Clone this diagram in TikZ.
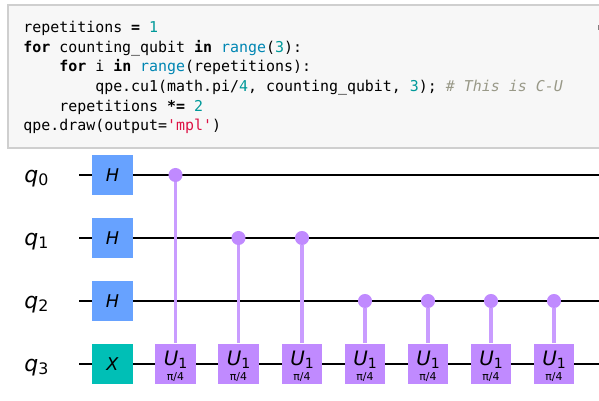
\documentclass[tikz,border=0pt]{standalone}
\usepackage{fontspec}
\usepackage{xcolor}
\setmonofont{DejaVu Sans Mono}
\newfontfamily\labelfont{DejaVu Sans}
\definecolor{hblue}{HTML}{67A2FF}
\definecolor{xteal}{HTML}{00BFB6}
\definecolor{upurple}{HTML}{C08AFF}
\definecolor{cellgray}{HTML}{F7F7F7}
\definecolor{cellline}{HTML}{CFCFCF}
\definecolor{kwnum}{HTML}{009999}
\definecolor{kwfun}{HTML}{0086B3}
\definecolor{kwstr}{HTML}{DD1144}
\definecolor{kwcom}{HTML}{999988}
\newcommand{\kw}[1]{\textbf{#1}}
\newcommand{\nm}[1]{\textcolor{kwnum}{#1}}
\newcommand{\fn}[1]{\textcolor{kwfun}{#1}}
\newcommand{\qlabel}[1]{\fontsize{12.5}{15}\labelfont\textit{q}\raisebox{-2.2pt}{\fontsize{9}{11}\selectfont #1}}
\tikzset{
  codeline/.style={anchor=base west,inner sep=0pt,font=\ttfamily\fontsize{8.5}{10}\selectfont},
  gatebox/.style={minimum size=23.2pt,inner sep=0pt,font=\labelfont\itshape\fontsize{10}{12}\selectfont},
  ctrl/.style={circle,fill=upurple,minimum size=8pt,inner sep=0pt},
  ctrlline/.style={draw=upurple!85!white,line width=1.8pt},
  wire/.style={line width=1.5pt},
}
\begin{document}
\begin{tikzpicture}[x=0.02cm,y=-0.02cm]
\useasboundingbox (0,0) rectangle (599,400);
% code cell
\draw[cellline,fill=cellgray,line width=0.6pt] (8,5)--(600,5)--(600,148)--(8,148)--cycle;
\fill[gray] (597.5,25) rectangle (599,30);
\node[codeline] (line0) at (23,32) {repetitions \kw{=} \nm{1}};
\node[codeline] (line1) at (23,52) {\kw{for} counting\_qubit \kw{in} \fn{range}(\nm{3}):};
\node[codeline] (line2) at (23,71.5) {\ \ \ \ \kw{for} i \kw{in} \fn{range}(repetitions):};
\node[codeline] (line3) at (23,91) {\ \ \ \ \ \ \ \ qpe.cu1(math.pi/\nm{4}, counting\_qubit, \nm{3}); \textcolor{kwcom}{\textit{\# This is C-U}}};
\node[codeline] (line4) at (23,111) {\ \ \ \ repetitions \kw{*=} \nm{2}};
\node[codeline] (line5) at (23,130.5) {qpe.draw(output=\textcolor{kwstr}{'mpl'})};
% wires
\foreach \n/\y in {0/175,1/238,2/301,3/364} {
  \coordinate (in\n) at (79,\y);
  \coordinate (out\n) at (599,\y);
  \draw[wire] (in\n)--(out\n);
  \node[inner sep=0pt,anchor=base] (q\n) at (36.5,\y+7) {\qlabel{\n}};
}
% single qubit gates
\foreach \n/\y in {0/175,1/238,2/301} {
  \node[gatebox,fill=hblue] (h\n) at (112.5,\y) {H};
}
\node[gatebox,fill=xteal] (x3) at (112.5,364) {X};
% controlled gates
\foreach \n/\x/\y in {1/175.5/175,2/238.5/238,3/302/238,4/365/301,5/428/301,6/491/301,7/554/301} {
  \node[ctrl] (c\n) at (\x,\y) {};
  \node[gatebox,fill=upurple] (u\n) at (\x,364) {};
  \draw[ctrlline] (c\n)--(u\n);
  \node[inner sep=0pt,anchor=base] (ulab\n) at (\x,365.5) {\labelfont\fontsize{11.3}{13}\selectfont\textit{U}\raisebox{-1.6pt}{\fontsize{8}{10}\selectfont 1}};
  \node[inner sep=0pt,anchor=base] (ang\n) at (\x,380) {\labelfont\fontsize{6.2}{7}\selectfont π/4};
}
\end{tikzpicture}
\end{document}
